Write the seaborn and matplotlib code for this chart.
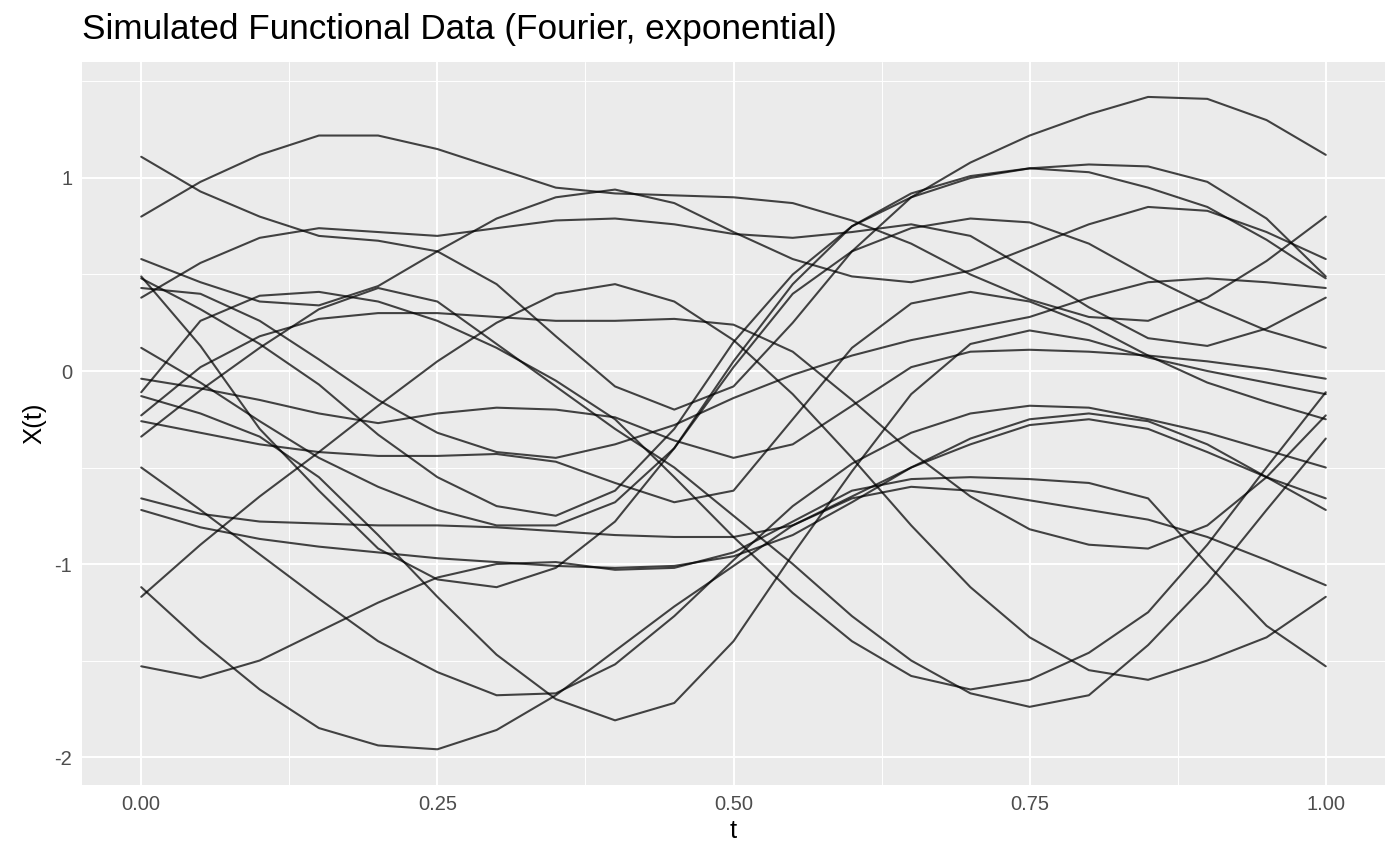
import numpy as np
import pandas as pd
import seaborn as sns
import matplotlib.pyplot as plt

# grid of t values the curves were read at
t_grid = [round(0.05 * i, 2) for i in range(21)]

# curve values, one list per curve
curve_a = [0.80, 0.98, 1.12, 1.22, 1.22, 1.15, 1.05, 0.95, 0.92, 0.91, 0.90, 0.87, 0.78, 0.66, 0.50, 0.37, 0.28, 0.26, 0.38, 0.57, 0.80]
curve_b = [1.11, 0.93, 0.80, 0.70, 0.675, 0.62, 0.45, 0.18, -0.08, -0.20, -0.08, 0.25, 0.62, 0.90, 1.08, 1.22, 1.33, 1.42, 1.41, 1.30, 1.12]
curve_c = [0.58, 0.46, 0.36, 0.34, 0.44, 0.62, 0.79, 0.90, 0.94, 0.87, 0.72, 0.58, 0.49, 0.46, 0.52, 0.64, 0.76, 0.85, 0.83, 0.72, 0.58]
curve_d = [0.49, 0.13, -0.30, -0.62, -0.92, -1.08, -1.12, -1.02, -0.78, -0.40, 0.05, 0.45, 0.75, 0.92, 1.01, 1.05, 1.07, 1.06, 0.98, 0.79, 0.49]
curve_e = [0.48, 0.32, 0.14, -0.07, -0.33, -0.55, -0.70, -0.75, -0.62, -0.30, 0.15, 0.50, 0.75, 0.90, 1.00, 1.05, 1.03, 0.95, 0.85, 0.68, 0.48]
curve_f = [0.43, 0.40, 0.26, 0.06, -0.15, -0.32, -0.42, -0.45, -0.38, -0.28, -0.14, -0.02, 0.08, 0.16, 0.22, 0.28, 0.38, 0.46, 0.48, 0.46, 0.43]
curve_g = [0.38, 0.56, 0.69, 0.74, 0.72, 0.70, 0.74, 0.78, 0.79, 0.76, 0.71, 0.69, 0.72, 0.76, 0.70, 0.52, 0.33, 0.17, 0.13, 0.22, 0.38]
curve_h = [0.12, -0.06, -0.26, -0.45, -0.60, -0.72, -0.80, -0.80, -0.68, -0.40, 0.02, 0.40, 0.62, 0.74, 0.79, 0.77, 0.66, 0.49, 0.34, 0.21, 0.12]
curve_i = [-0.04, -0.09, -0.15, -0.22, -0.27, -0.22, -0.19, -0.20, -0.24, -0.36, -0.45, -0.38, -0.18, 0.02, 0.10, 0.11, 0.10, 0.08, 0.05, 0.01, -0.04]
curve_j = [-0.11, 0.26, 0.39, 0.41, 0.36, 0.26, 0.12, -0.05, -0.25, -0.55, -0.86, -1.15, -1.40, -1.58, -1.65, -1.60, -1.46, -1.25, -0.90, -0.50, -0.11]
curve_k = [-0.13, -0.22, -0.34, -0.55, -0.85, -1.17, -1.47, -1.70, -1.81, -1.72, -1.40, -0.95, -0.52, -0.12, 0.14, 0.21, 0.16, 0.07, 0.00, -0.06, -0.12]
curve_l = [-0.23, 0.02, 0.18, 0.27, 0.30, 0.30, 0.28, 0.26, 0.26, 0.27, 0.24, 0.10, -0.15, -0.42, -0.65, -0.82, -0.90, -0.92, -0.80, -0.55, -0.23]
curve_m = [-0.26, -0.32, -0.38, -0.42, -0.44, -0.44, -0.43, -0.47, -0.58, -0.68, -0.62, -0.25, 0.12, 0.35, 0.41, 0.36, 0.24, 0.08, -0.06, -0.16, -0.25]
curve_n = [-0.34, -0.10, 0.12, 0.32, 0.43, 0.36, 0.14, -0.08, -0.30, -0.50, -0.75, -1.00, -1.27, -1.50, -1.67, -1.74, -1.68, -1.42, -1.10, -0.72, -0.35]
curve_o = [-0.50, -0.72, -0.95, -1.18, -1.40, -1.56, -1.68, -1.67, -1.52, -1.27, -0.98, -0.70, -0.48, -0.32, -0.22, -0.18, -0.19, -0.25, -0.32, -0.41, -0.50]
curve_p = [-0.66, -0.74, -0.78, -0.79, -0.80, -0.80, -0.81, -0.83, -0.85, -0.86, -0.86, -0.80, -0.65, -0.50, -0.38, -0.28, -0.25, -0.30, -0.42, -0.55, -0.66]
curve_q = [-0.72, -0.81, -0.87, -0.91, -0.94, -0.97, -0.99, -1.01, -1.02, -1.01, -0.96, -0.85, -0.68, -0.50, -0.35, -0.25, -0.22, -0.26, -0.38, -0.55, -0.72]
curve_r = [-1.12, -1.40, -1.65, -1.85, -1.94, -1.96, -1.86, -1.68, -1.45, -1.22, -1.01, -0.80, -0.66, -0.60, -0.62, -0.67, -0.72, -0.77, -0.86, -0.98, -1.11]
curve_s = [-1.17, -0.90, -0.65, -0.42, -0.18, 0.05, 0.25, 0.40, 0.45, 0.36, 0.16, -0.12, -0.45, -0.80, -1.12, -1.38, -1.55, -1.60, -1.50, -1.38, -1.17]
curve_t = [-1.53, -1.59, -1.50, -1.35, -1.20, -1.07, -1.00, -0.99, -1.03, -1.02, -0.94, -0.78, -0.62, -0.56, -0.55, -0.56, -0.58, -0.66, -1.00, -1.32, -1.53]

curves = [curve_a, curve_b, curve_c, curve_d, curve_e, curve_f, curve_g, curve_h, curve_i, curve_j,
          curve_k, curve_l, curve_m, curve_n, curve_o, curve_p, curve_q, curve_r, curve_s, curve_t]

rows = []
for idx, vals in enumerate(curves):
    for t, v in zip(t_grid, vals):
        rows.append({"curve": idx, "t": t, "x": v})
df = pd.DataFrame(rows)

sns.set_theme(style="darkgrid")
plt.rcParams['font.family'] = ['Liberation Sans', 'DejaVu Sans']

fig = plt.figure(figsize=(14, 8.66), dpi=100)
ax = fig.add_axes([82 / 1400, 81 / 866, 1303 / 1400, 723 / 866])
ax.set_facecolor('#EBEBEB')

sns.lineplot(data=df, x="t", y="x", units="curve", estimator=None,
             color="black", alpha=0.72, linewidth=1.5, ax=ax, legend=False)

ax.set_xlim(-0.05, 1.05)
ax.set_ylim(-2.145, 1.601)
ax.set_xticks([0, 0.25, 0.5, 0.75, 1.0])
ax.set_xticklabels(["0.00", "0.25", "0.50", "0.75", "1.00"])
ax.set_yticks([-2, -1, 0, 1])
ax.set_yticklabels(["-2", "-1", "0", "1"])
ax.set_xticks([0.125, 0.375, 0.625, 0.875], minor=True)
ax.set_yticks([-1.5, -0.5, 0.5, 1.5], minor=True)
ax.grid(which="major", color="white", linewidth=1.4)
ax.grid(which="minor", color="white", linewidth=0.7)
ax.set_axisbelow(True)
for s in ax.spines.values():
    s.set_visible(False)
ax.tick_params(axis="both", which="major", length=4, width=1, color="#333333",
               labelcolor="#4D4D4D", labelsize=14.5, pad=3)
ax.tick_params(axis="both", which="minor", length=0)

ax.set_xlabel("t", fontsize=18.5, color="black", labelpad=4)
ax.set_ylabel("X(t)", fontsize=18.5, color="black", labelpad=6)
fig.text(82 / 1400, 1 - 30 / 866, "Simulated Functional Data (Fourier, exponential)",
         fontsize=25.3, color="black", ha="left", va="center")

plt.savefig("out.png", dpi=100)
